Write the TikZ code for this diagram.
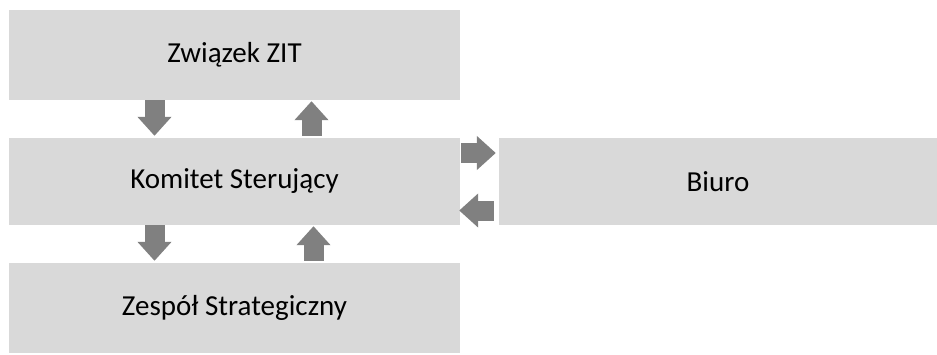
\documentclass[tikz,border=0pt]{standalone}
\usepackage{fontspec}
\setmainfont{Carlito}
\usetikzlibrary{arrows.meta}
\definecolor{boxGray}{RGB}{217,217,217}
\definecolor{arrowGray}{RGB}{128,128,128}

\begin{document}
\begin{tikzpicture}[x=1pt,y=-1pt,
  unitbox/.style={fill=boxGray,inner sep=0pt,font=\fontsize{29}{33}\selectfont},
  blockarrow/.style={draw=arrowGray,line width=20pt,-{Triangle[width=33pt,length=19pt]}}]
\useasboundingbox (0,0) rectangle (937,354);
\node[unitbox,minimum width=451pt,minimum height=90pt] (zit) at (234.5,55) {Związek ZIT};
\node[unitbox,minimum width=451pt,minimum height=87pt] (komitet) at (234.5,181.5) {Komitet Sterujący};
\node[unitbox,minimum width=451pt,minimum height=90pt] (zespol) at (234.5,308) {Zespół Strategiczny};
\node[unitbox,minimum width=438pt,minimum height=87pt] (biuro) at (718,181.5) {Biuro};
% pionowe strzalki
\draw[blockarrow,shorten >=2pt] ([xshift=-80pt]zit.south) -- ([xshift=-80pt]komitet.north);
\draw[blockarrow,shorten <=2pt,shorten >=1pt] ([xshift=77pt]komitet.north) -- ([xshift=77pt]zit.south);
\draw[blockarrow,shorten >=2pt] ([xshift=-80pt]komitet.south) -- ([xshift=-80pt]zespol.north);
\draw[blockarrow,shorten <=2pt,shorten >=1pt] ([xshift=79pt]zespol.north) -- ([xshift=79pt]komitet.south);
% poziome strzalki
\draw[blockarrow,shorten <=1pt,shorten >=3pt] ([yshift=28.5pt]komitet.east) -- ([yshift=28.5pt]biuro.west);
\draw[blockarrow,shorten <=5pt,shorten >=-1pt] ([yshift=-29pt]biuro.west) -- ([yshift=-29pt]komitet.east);
\end{tikzpicture}
\end{document}
